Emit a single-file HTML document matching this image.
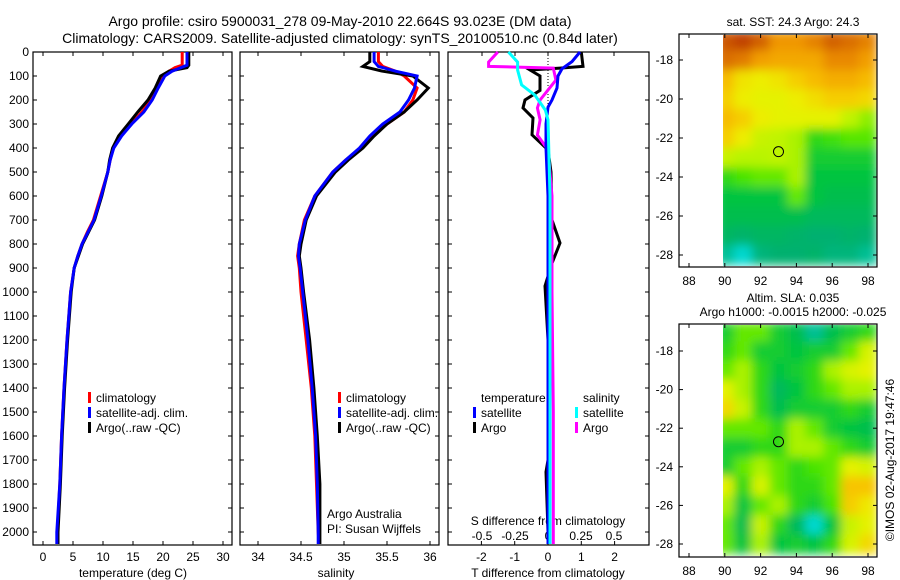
<!DOCTYPE html>
<html><head><meta charset="utf-8"><style>
body{margin:0;background:#fff;}
svg{display:block;font-family:"Liberation Sans",sans-serif;}
</style></head><body>
<svg id="c" width="900" height="580" viewBox="0 0 900 580">
<g id="static" font-size="12" fill="#000">
<text x="340" y="26" font-size="14" text-anchor="middle">Argo profile: csiro 5900031_278 09-May-2010 22.664S 93.023E (DM data)</text>
<text x="340" y="43" font-size="14" text-anchor="middle">Climatology: CARS2009. Satellite-adjusted climatology: synTS_20100510.nc (0.84d later)</text>
<text x="133" y="577" text-anchor="middle">temperature (deg C)</text>
<text x="336" y="577" text-anchor="middle">salinity</text>
<text x="548" y="577" text-anchor="middle">T difference from climatology</text>
<text x="548" y="525" text-anchor="middle">S difference from climatology</text>
<text x="327" y="518">Argo Australia</text>
<text x="327" y="533">PI: Susan Wijffels</text>
<text x="793" y="26" text-anchor="middle">sat. SST: 24.3 Argo: 24.3</text>
<text x="793" y="302" text-anchor="middle">Altim. SLA: 0.035</text>
<text x="793" y="316" text-anchor="middle">Argo h1000: -0.0015 h2000: -0.025</text>
<text transform="translate(894,460) rotate(-90)" text-anchor="middle">©IMOS 02-Aug-2017 19:47:46</text>
</g>
<g id="plots"></g>
</svg>
<script>
const NS="http://www.w3.org/2000/svg";
const svg=document.getElementById('plots');
function el(tag,attrs,parent){const e=document.createElementNS(NS,tag);for(const k in attrs)e.setAttribute(k,attrs[k]);(parent||svg).appendChild(e);return e;}

// ---- data ----
const depthTicks=[0,100,200,300,400,500,600,700,800,900,1000,1100,1200,1300,1400,1500,1600,1700,1800,1900,2000];
const tempTicks=[0,5,10,15,20,25,30];
const salTicks=[34,34.5,35,35.5,36];
const tdiffTicks=[-2,-1,0,1,2];
const sdiffTicks=[-0.5,-0.25,0,0.25,0.5];
const sdiffTickLabels=["-0.5","-0.25","0","0.25","0.5"];

const tDepth=[0,55,65,80,100,150,200,250,300,350,400,450,500,600,700,750,800,850,900,1000,1100,1200,1400,1600,1800,2000,2050];
const tClim=[23.2,23.2,22,21,20,19,18,16.5,14.7,13,11.7,11.2,10.8,9.6,8.4,7.4,6.5,5.8,5.2,4.6,4.3,4.0,3.5,3.1,2.8,2.4,2.4];
const tSat=[24,24,23,21.5,20.3,19.2,18.2,16.8,14.8,13.1,11.8,11.2,10.8,9.7,8.5,7.5,6.5,5.8,5.2,4.6,4.3,4.0,3.5,3.1,2.8,2.3,2.3];
const tArgo=[24.3,24.3,24,21,19.6,18.7,17.5,15.8,14.2,12.6,11.6,11.1,10.8,9.8,8.6,7.6,6.6,5.9,5.2,4.7,4.4,4.1,3.6,3.2,2.9,2.5,2.5];

const sDepth=[0,40,60,80,100,150,200,250,300,350,400,450,500,600,700,800,850,900,1000,1200,1400,1600,1800,2000,2050];
const sArgo=[35.3,35.3,35.22,35.45,35.8,35.98,35.85,35.7,35.5,35.35,35.22,35.05,34.9,34.68,34.56,34.5,34.48,34.5,34.53,34.6,34.65,34.69,34.72,34.72,34.72];
const sClim=[35.4,35.4,35.45,35.6,35.7,35.85,35.8,35.7,35.5,35.33,35.2,35.02,34.87,34.66,34.54,34.48,34.46,34.48,34.5,34.56,34.62,34.66,34.68,34.7,34.71];
const sSat=[35.35,35.35,35.4,35.6,35.85,35.82,35.75,35.65,35.45,35.3,35.18,35.02,34.87,34.66,34.55,34.48,34.47,34.49,34.52,34.58,34.63,34.67,34.69,34.7,34.7];

const dTSatDepth=[0,40,70,100,150,200,230,300,400,600,1000,2000,2050];
const dTSat=[0.96,0.72,0.42,0.3,0.27,0.12,0,-0.06,-0.06,0,0,0,0];
const dTArgoDepth=[0,60,67,75,100,160,200,233,275,345,408,500,700,796,880,975,1050,1200,1700,1750,2000];
const dTArgo=[1.0,1.05,0.36,-0.54,-0.24,-0.24,-0.69,-0.75,-0.45,-0.48,0,0.09,0.12,0.36,0.12,-0.09,-0.06,0,0,-0.06,0];
const dSArgoDepth=[0,42,60,67,117,200,233,283,346,408,600,1000,1500,2000,2050];
const dSArgo=[-0.38,-0.45,-0.45,0.04,0.06,-0.06,-0.08,-0.06,-0.08,0,0.03,0.03,0.04,0.04,0.04];
const dSSatDepth=[0,42,75,137,179,242,283,600,1000,2000,2050];
const dSSat=[-0.3,-0.23,-0.23,-0.2,-0.1,-0.02,0,0.015,0.015,0.015,0.015];

const mapLonTicks=[88,90,92,94,96,98];
const mapLatTicks=[-18,-20,-22,-24,-26,-28];
const sstGrid=[
[.92,.95,.9,.82,.82,.85,.9,.88,.85],
[.88,.86,.8,.78,.78,.78,.84,.84,.8],
[.74,.66,.64,.66,.7,.74,.77,.77,.74],
[.7,.64,.62,.62,.64,.67,.7,.7,.68],
[.74,.7,.64,.62,.62,.62,.62,.57,.53],
[.7,.64,.58,.57,.55,.45,.47,.49,.49],
[.58,.56,.56,.57,.55,.42,.42,.42,.42],
[.45,.48,.5,.5,.55,.4,.4,.4,.4],
[.4,.4,.4,.4,.5,.4,.38,.38,.38],
[.38,.38,.38,.38,.38,.36,.36,.36,.36],
[.35,.34,.35,.35,.34,.33,.33,.34,.33],
[.3,.25,.32,.33,.33,.34,.32,.32,.3]];
const slaGrid=[
[.42,.5,.5,.42,.38,.3,.38,.42,.45],
[.45,.5,.42,.42,.4,.42,.42,.5,.6],
[.5,.55,.45,.4,.42,.45,.55,.6,.62],
[.62,.55,.45,.36,.4,.45,.5,.55,.55],
[.68,.58,.45,.38,.42,.42,.42,.45,.42],
[.5,.5,.5,.45,.55,.5,.42,.4,.38],
[.42,.42,.45,.45,.55,.55,.5,.45,.42],
[.42,.5,.55,.5,.45,.48,.5,.62,.6],
[.62,.45,.6,.5,.45,.45,.5,.72,.72],
[.55,.4,.5,.55,.45,.42,.48,.7,.65],
[.5,.38,.58,.45,.36,.25,.4,.58,.62],
[.5,.4,.55,.4,.42,.4,.45,.6,.68]];
const argoLon=93.0, argoLat=-22.7;

// ---- scales ----
const yD=d=>52+d*0.24;
const xT=t=>43+t*6;
const xS=s=>258+(s-34)*86;
const xDT=v=>548+v*33.3;
const xDS=v=>548+v*132;

function frame(x0,x1,y0,y1,name){el('rect',{x:x0,y:y0,width:x1-x0,height:y1-y0,fill:'none',stroke:'#000','stroke-width':1.2,});}
function line(xs,ds,xf,color,name,w){
  const pts=xs.map((v,i)=>xf(v).toFixed(1)+','+yD(ds[i]).toFixed(1)).join(' ');
  const p=el('polyline',{points:pts,fill:'none',stroke:color,'stroke-width':w||3,'stroke-linejoin':'miter'});
  
  
}
function text(x,y,s,anchor,name){const t=el('text',{x:x,y:y,'font-size':12,'text-anchor':anchor||'start'});t.textContent=s;return t;}

const panels=[[33,232],[240,439],[448,649]];
depthTicks.forEach(d=>{
  const y=yD(d);
  text(29,y+4,String(d),'end','depth-tick-label');
  panels.forEach(([a,b])=>{
    const l1=el('line',{x1:a,y1:y,x2:a+4,y2:y,stroke:'#000'});
    const l2=el('line',{x1:b,y1:y,x2:b-4,y2:y,stroke:'#000'});
  });
});
frame(33,232,52,545,'temperature-panel');
frame(240,439,52,545,'salinity-panel');
frame(448,649,52,545,'difference-panel');

tempTicks.forEach(t=>{const x=xT(t);el('line',{x1:x,y1:545,x2:x,y2:541,stroke:'#000'});el('line',{x1:x,y1:52,x2:x,y2:56,stroke:'#000'});text(x,561,String(t),'middle','temp-tick-label');});
salTicks.forEach(t=>{const x=xS(t);el('line',{x1:x,y1:545,x2:x,y2:541,stroke:'#000'});el('line',{x1:x,y1:52,x2:x,y2:56,stroke:'#000'});text(x,561,String(t),'middle','sal-tick-label');});
tdiffTicks.forEach(t=>{const x=xDT(t);el('line',{x1:x,y1:545,x2:x,y2:541,stroke:'#000'});text(x,561,String(t),'middle','tdiff-tick-label');});
sdiffTicks.forEach((t,i)=>{const x=xDS(t);el('line',{x1:x,y1:52,x2:x,y2:56,stroke:'#000'});text(x,540,sdiffTickLabels[i],'middle','sdiff-tick-label');});
const zl=el('line',{x1:xDT(0),y1:52,x2:xDT(0),y2:545,stroke:'#000','stroke-dasharray':'1,2'});

line(tClim,tDepth,xT,'#f00','temp-climatology-line');
line(tArgo,tDepth,xT,'#000','temp-argo-line');
line(tSat,tDepth,xT,'#00f','temp-satellite-line');
line(sClim,sDepth,xS,'#f00','sal-climatology-line');
line(sArgo,sDepth,xS,'#000','sal-argo-line');
line(sSat,sDepth,xS,'#00f','sal-satellite-line');
line(dTArgo,dTArgoDepth,xDT,'#000','tdiff-argo-line');
line(dSArgo,dSArgoDepth,xDS,'#f0f','sdiff-argo-line');
line(dTSat,dTSatDepth,xDT,'#00f','tdiff-satellite-line');
line(dSSat,dSSatDepth,xDS,'#0ff','sdiff-satellite-line');

function legItem(x,y,color,label,name){
  const r=el('rect',{x:x,y:y-10,width:3,height:11,fill:color});
  text(x+8,y,label,'start',name);
}
[[88,'temp'],[338,'sal']].forEach(([x,n])=>{
  legItem(x,402,'#f00','climatology',n+'-legend-climatology');
  legItem(x,417,'#00f','satellite-adj. clim.',n+'-legend-satellite');
  legItem(x,432,'#000','Argo(..raw -QC)',n+'-legend-argo');
});
text(481,402,'temperature','start','diff-legend-temperature-header');
legItem(473,417,'#00f','satellite','diff-legend-temp-satellite');
legItem(473,432,'#000','Argo','diff-legend-temp-argo');
text(583,402,'salinity','start','diff-legend-salinity-header');
legItem(575,417,'#0ff','satellite','diff-legend-sal-satellite');
legItem(575,432,'#f0f','Argo','diff-legend-sal-argo');

const stops=[[0.25,[0,216,208]],[0.33,[0,176,112]],[0.4,[0,196,64]],[0.48,[72,228,0]],[0.56,[184,244,0]],[0.63,[236,242,0]],[0.72,[248,196,0]],[0.82,[240,150,0]],[0.95,[192,64,0]]];
function cmap(v){
  if(v<=stops[0][0])return 'rgb('+stops[0][1]+')';
  for(let i=1;i<stops.length;i++){if(v<=stops[i][0]){const f=(v-stops[i-1][0])/(stops[i][0]-stops[i-1][0]);const c=stops[i-1][1].map((a,k)=>Math.round(a+(stops[i][1][k]-a)*f));return 'rgb('+c+')';}}
  return 'rgb('+stops[stops.length-1][1]+')';
}
const defs=el('defs',{});
const flt=el('filter',{id:'blur',x:'-5%',y:'-5%',width:'110%',height:'110%'},defs);
el('feGaussianBlur',{stdDeviation:5},flt);
function drawMap(y0,grid,name,latY18,latY28){
  const xL=v=>689+(v-88)*17.9;
  const yL=v=>latY18+(v+18)*(latY28-latY18)/(-10);
  const cp=el('clipPath',{id:'clip'+name},defs);
  el('rect',{x:723,y:y0+1,width:154,height:231},cp);
  const g=el('g',{'clip-path':'url(#clip'+name+')'});
  
  const gi=el('g',{filter:'url(#blur)'},g);
  grid.forEach((row,r)=>row.forEach((v,c)=>{
    const lon=90+c, lat=-17-r;
    const x=xL(lon-0.5), y=yL(lat+0.5);
    const cell=el('rect',{x:x.toFixed(1),y:y.toFixed(1),width:18.4,height:(yL(lat-0.5)-y+0.5).toFixed(1),fill:cmap(v)},gi);
    
    
  }));
  frame(679,877,y0,y0+233,name+'-frame');
  mapLonTicks.forEach(l=>{const x=xL(l);el('line',{x1:x,y1:y0+233,x2:x,y2:y0+229,stroke:'#000'});el('line',{x1:x,y1:y0,x2:x,y2:y0+4,stroke:'#000'});text(x,y0+251,String(l),'middle',name+'-lon-label');});
  mapLatTicks.forEach(l=>{const y=yL(l);el('line',{x1:679,y1:y,x2:683,y2:y,stroke:'#000'});el('line',{x1:877,y1:y,x2:873,y2:y,stroke:'#000'});text(673,y+4,String(l),'end',name+'-lat-label');});
  const m=el('circle',{cx:xL(argoLon),cy:yL(argoLat),r:5,fill:'none',stroke:'#000','stroke-width':1});
  
}
drawMap(34,sstGrid,'sst-map',60,255);
drawMap(324,slaGrid,'sla-map',351,544);
</script>
</body></html>
